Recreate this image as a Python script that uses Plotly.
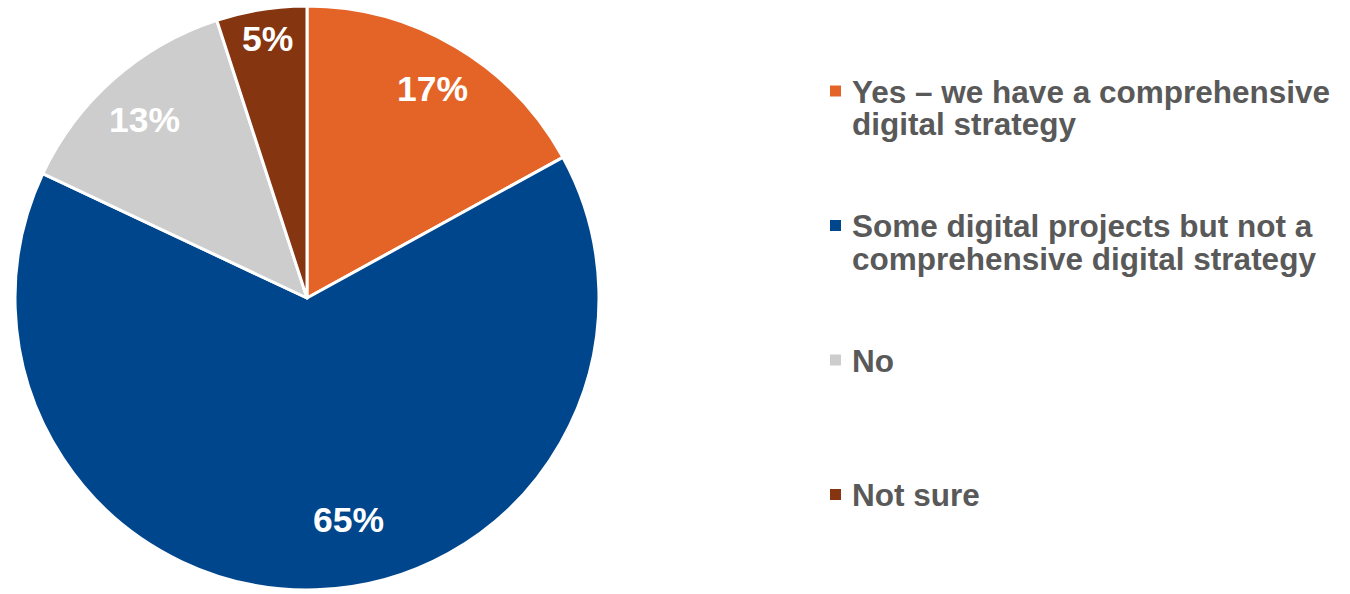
import math
import plotly.graph_objects as go

# Survey answers and their shares (%)
labels = [
    "Yes – we have a comprehensive<br>digital strategy",
    "Some digital projects but not a<br>comprehensive digital strategy",
    "No",
    "Not sure",
]
values = [17, 65, 13, 5]
colors = ["#E46428", "#00468C", "#CDCDCD", "#85350F"]

# placement of the percentage labels: radius fraction and angle nudge (deg)
label_radius = [0.83, 0.78, 0.82, 0.89]
label_nudge = [0.7, -8.6, -1.4, 0.3]

W, H = 1350, 594
FONT = "Liberation Sans, Arial, sans-serif"
TEXT_GREY = "#595959"

# pie placement in pixels
cx, cy, R = 307, 298, 292

fig = go.Figure(
    go.Pie(
        values=values,
        labels=[l.replace("<br>", " ") for l in labels],
        marker=dict(colors=colors, line=dict(color="white", width=3)),
        sort=False,
        direction="clockwise",
        rotation=0,
        textinfo="none",
        hoverinfo="label+percent",
        showlegend=False,
        domain=dict(x=[(cx - R) / W, (cx + R) / W], y=[1 - (cy + R) / H, 1 - (cy - R) / H]),
    )
)

annotations = []
shapes = []

# percentage labels around each slice's mid-angle
total = sum(values)
cum = 0
for v, rf, nudge in zip(values, label_radius, label_nudge):
    mid = (cum + v / 2) / total * 2 * math.pi + math.radians(nudge)
    cum += v
    r = rf * R
    px = cx + r * math.sin(mid)
    py = cy - r * math.cos(mid)
    annotations.append(dict(
        x=px / W, y=1 - (py - 2) / H, xref="paper", yref="paper",
        text=f"<b>{round(v / total * 100)}%</b>", showarrow=False,
        font=dict(family=FONT, size=35.5, color="white"),
        xanchor="center", yanchor="middle",
    ))

# legend drawn on the right
item_y0, item_step = 91, 134.5
line_gap = 32.5
for i, (lab, col) in enumerate(zip(labels, colors)):
    y = item_y0 + i * item_step
    shapes.append(dict(
        type="rect", xref="paper", yref="paper",
        x0=830 / W, x1=841 / W, y0=1 - (y - 5.5) / H, y1=1 - (y + 5.5) / H,
        fillcolor=col, line=dict(width=0),
    ))
    for j, line in enumerate(lab.split("<br>")):
        annotations.append(dict(
            x=850 / W, y=1 - (y + 1 + j * line_gap) / H, xref="paper", yref="paper",
            text=f"<b>{line}</b>", showarrow=False,
            font=dict(family=FONT, size=31.5, color=TEXT_GREY),
            xanchor="left", yanchor="middle",
        ))

fig.update_layout(
    width=W, height=H,
    margin=dict(l=0, r=0, t=0, b=0),
    paper_bgcolor="white", plot_bgcolor="white",
    annotations=annotations, shapes=shapes,
)

fig.write_html("out.html")
